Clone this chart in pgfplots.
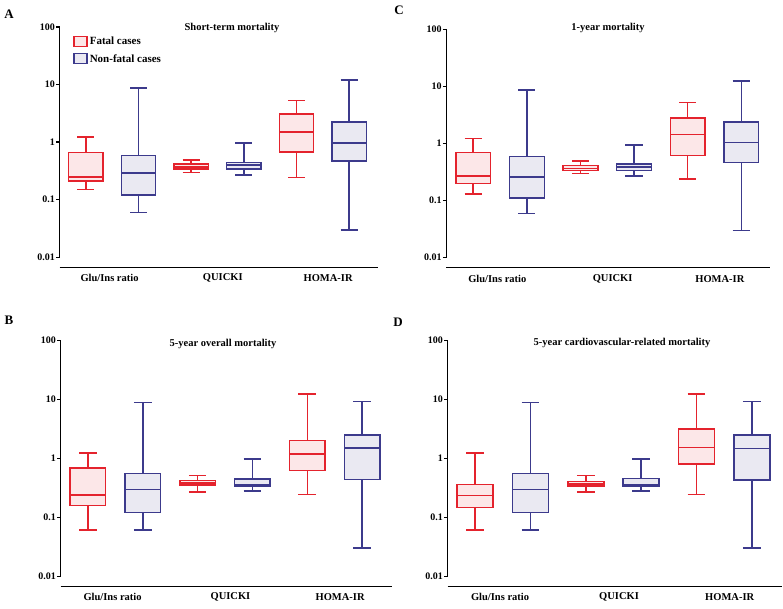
\documentclass[border=0pt]{standalone}
\usepackage{fontspec}
\setmainfont{Liberation Serif}
\usepackage{pgfplots}
\pgfplotsset{compat=1.18}

\definecolor{fatal}{RGB}{228,35,45}
\definecolor{nonfatal}{RGB}{60,58,140}

\tikzset{
  fatbox/.style={draw=fatal, fill=fatal!11, line width=1.5pt},
  nonbox/.style={draw=nonfatal, fill=nonfatal!11, line width=1.5pt},
}
\pgfplotsset{every axis/.append style={scale only axis,
    ymin=0.01, ymax=100, xmin=0.5, xmax=6.5,
    axis x line=none, axis y line*=left, axis line style={-, line width=1.3pt},
    ytick={0.01,0.1,1,10,100}, yticklabels={0.01,0.1,1,10,100},
    yminorticks=false, tick align=outside, major tick length=3.5pt,
    tick style={line width=1.3pt, black},
    yticklabel style={font=\bfseries\fontsize{10}{11}\selectfont, inner sep=1pt},
    clip=false}}
% position, style, lower whisker, lower quartile, median, upper quartile, upper whisker
\newcommand\bx[7]{%
  \pgfmathsetmacro\boxL{#1-0.325}\pgfmathsetmacro\boxR{#1+0.325}%
  \pgfmathsetmacro\capL{#1-0.16}\pgfmathsetmacro\capR{#1+0.16}%
  \addplot[#2] coordinates {(\boxL,#4) (\boxR,#4) (\boxR,#6) (\boxL,#6)} -- cycle;
  \addplot[#2, fill=none] coordinates {(\boxL,#5) (\boxR,#5)};
  \addplot[#2, fill=none] coordinates {(#1,#6) (#1,#7)};
  \addplot[#2, fill=none] coordinates {(#1,#4) (#1,#3)};
  \addplot[#2, fill=none] coordinates {(\capL,#7) (\capR,#7)};
  \addplot[#2, fill=none] coordinates {(\capL,#3) (\capR,#3)};}
\newcommand\cats{%
  \draw[line width=1.3pt] ([yshift=-10pt]rel axis cs:0,0) -- ([yshift=-10pt,xshift=2pt]rel axis cs:1,0);
  \node[font=\bfseries\fontsize{10.5}{12}\selectfont] at ([yshift=-21pt]axis cs:1.45,0.01) {Glu/Ins ratio};
  \node[font=\bfseries\fontsize{10.5}{12}\selectfont] at ([yshift=-21pt]axis cs:3.6,0.01) {QUICKI};
  \node[font=\bfseries\fontsize{10.5}{12}\selectfont] at ([yshift=-21pt]axis cs:5.6,0.01) {HOMA-IR};}

\begin{document}
\begin{tikzpicture}[x=1pt,y=1pt]
\path[use as bounding box] (0,0) rectangle (783,608);

% A: short-term mortality
\begin{axis}[ymode=log, at={(59.5pt,350.7pt)}, anchor=south west, width=316pt, height=230.3pt,
  legend style={at={(0.043,0.965)}, anchor=north west, draw=none, fill=none, inner sep=0pt,
    font=\bfseries\fontsize{11}{12}\selectfont, row sep=4pt, cells={anchor=west}},
  legend image code/.code={\draw[#1] (0pt,-4.5pt) rectangle (13pt,5.5pt);}]
\addlegendimage{fatbox}\addlegendentry{Fatal cases}
\addlegendimage{nonbox}\addlegendentry{Non-fatal cases}
\bx{1}{fatbox}{0.15}{0.21}{0.25}{0.66}{1.24}
\bx{2}{nonbox}{0.06}{0.12}{0.29}{0.59}{8.7}
\bx{3}{fatbox}{0.30}{0.34}{0.37}{0.415}{0.49}
\bx{4}{nonbox}{0.27}{0.34}{0.40}{0.44}{0.96}
\bx{5}{fatbox}{0.243}{0.67}{1.49}{3.06}{5.3}
\bx{6}{nonbox}{0.030}{0.47}{0.96}{2.25}{12.1}
\cats
\end{axis}

% C: 1-year mortality
\begin{axis}[ymode=log, at={(446.4pt,350.3pt)}, anchor=south west, width=321.7pt, height=228.4pt]
\bx{1}{fatbox}{0.13}{0.20}{0.27}{0.69}{1.22}
\bx{2}{nonbox}{0.059}{0.11}{0.26}{0.59}{8.7}
\bx{3}{fatbox}{0.30}{0.336}{0.365}{0.41}{0.49}
\bx{4}{nonbox}{0.27}{0.336}{0.385}{0.44}{0.95}
\bx{5}{fatbox}{0.237}{0.62}{1.44}{2.82}{5.2}
\bx{6}{nonbox}{0.030}{0.465}{1.05}{2.37}{12.4}
\cats
\end{axis}

% B: 5-year overall mortality
\begin{axis}[ymode=log, at={(60.5pt,31.7pt)}, anchor=south west, width=329pt, height=235.7pt]
\bx{1}{fatbox}{0.061}{0.16}{0.24}{0.685}{1.23}
\bx{2}{nonbox}{0.061}{0.12}{0.30}{0.56}{8.9}
\bx{3}{fatbox}{0.27}{0.357}{0.38}{0.42}{0.51}
\bx{4}{nonbox}{0.28}{0.343}{0.36}{0.45}{0.975}
\bx{5}{fatbox}{0.245}{0.62}{1.18}{2.02}{12.5}
\bx{6}{nonbox}{0.030}{0.44}{1.50}{2.52}{9.3}
\cats
\end{axis}

% D: 5-year cardiovascular-related mortality
\begin{axis}[ymode=log, at={(447.5pt,31.7pt)}, anchor=south west, width=332pt, height=235.7pt]
\bx{1}{fatbox}{0.061}{0.147}{0.235}{0.36}{1.23}
\bx{2}{nonbox}{0.061}{0.121}{0.30}{0.56}{8.9}
\bx{3}{fatbox}{0.27}{0.343}{0.37}{0.41}{0.51}
\bx{4}{nonbox}{0.28}{0.343}{0.36}{0.46}{0.975}
\bx{5}{fatbox}{0.245}{0.80}{1.54}{3.15}{12.5}
\bx{6}{nonbox}{0.030}{0.435}{1.48}{2.52}{9.3}
\cats
\end{axis}

\node[font=\bfseries\fontsize{10.5}{12}\selectfont] at (232,580.5) {Short-term mortality};
\node[font=\bfseries\fontsize{10.5}{12}\selectfont] at (608,580) {1-year mortality};
\node[font=\bfseries\fontsize{10.5}{12}\selectfont] at (223,264.5) {5-year overall mortality};
\node[font=\bfseries\fontsize{10.5}{12}\selectfont] at (622,265) {5-year cardiovascular-related mortality};
\node[font=\bfseries\fontsize{13}{14}\selectfont] at (9,594) {A};
\node[font=\bfseries\fontsize{13}{14}\selectfont] at (399,598) {C};
\node[font=\bfseries\fontsize{13}{14}\selectfont] at (9,288) {B};
\node[font=\bfseries\fontsize{13}{14}\selectfont] at (398,286) {D};
\end{tikzpicture}
\end{document}
